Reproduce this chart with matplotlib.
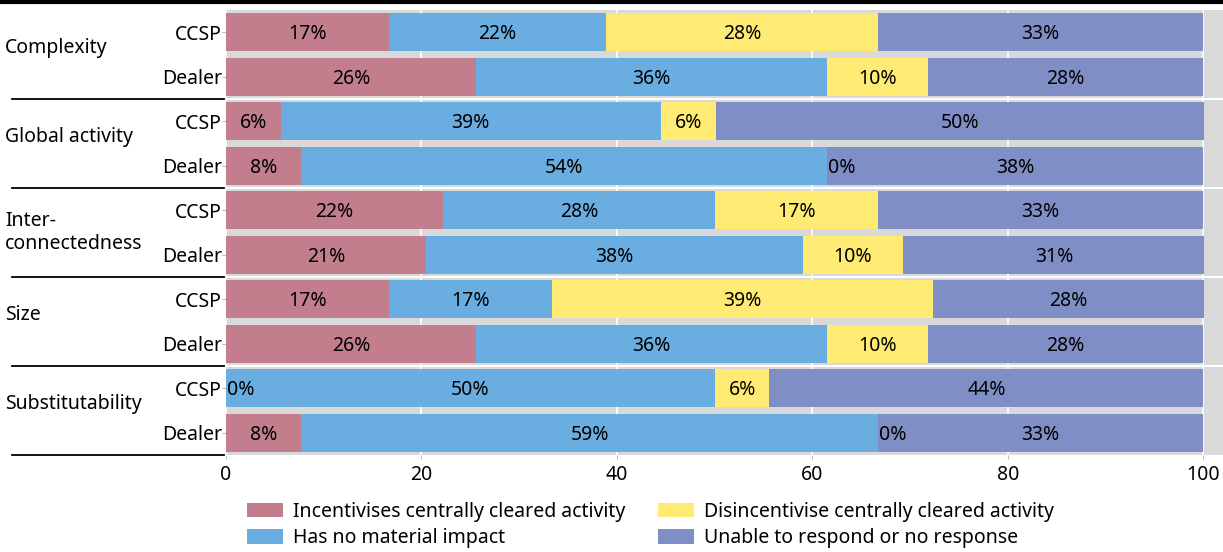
import numpy as np
import matplotlib.pyplot as plt
from matplotlib.transforms import blended_transform_factory
from matplotlib.patches import Patch

plt.rcParams['font.family'] = ['Noto Sans', 'DejaVu Sans']
plt.rcParams['font.size'] = 14

# groups and respondent types (top to bottom)
groups = ['Complexity', 'Global activity', 'Inter-\nconnectedness', 'Size', 'Substitutability']
types = ['CCSP', 'Dealer']

series = ['Incentivises centrally cleared activity', 'Has no material impact',
          'Disincentivise centrally cleared activity', 'Unable to respond or no response']
colors = ['#C27E8C', '#6AADE0', '#FFEA73', '#808EC6']

# share of respondents (%), rows: CCSP/Dealer per group
incentivise = [16.7, 25.6, 5.6, 7.7, 22.2, 20.5, 16.7, 25.6, 0.0, 7.7]
no_impact = [22.2, 35.9, 38.9, 53.8, 27.8, 38.5, 16.7, 35.9, 50.0, 59.0]
disincentivise = [27.8, 10.3, 5.6, 0.0, 16.7, 10.3, 38.9, 10.3, 5.6, 0.0]
no_response = [33.3, 28.2, 50.0, 38.5, 33.3, 30.8, 27.8, 28.2, 44.4, 33.3]
labels = [
    ['17%', '26%', '6%', '8%', '22%', '21%', '17%', '26%', '0%', '8%'],
    ['22%', '36%', '39%', '54%', '28%', '38%', '17%', '36%', '50%', '59%'],
    ['28%', '10%', '6%', '0%', '17%', '10%', '39%', '10%', '6%', '0%'],
    ['33%', '28%', '50%', '38%', '33%', '31%', '28%', '28%', '44%', '33%'],
]

data = np.array([incentivise, no_impact, disincentivise, no_response])
n = data.shape[1]
y = np.arange(n)

fig = plt.figure(figsize=(12.23, 5.52), dpi=100)
ax = fig.add_axes([226/1223, 97/552, 1 - 226/1223, 445/552])
ax.set_facecolor('#D9D9D9')

left = np.zeros(n)
for k in range(4):
    ax.barh(y, data[k], left=left, height=0.86, color=colors[k], zorder=3)
    for i in range(n):
        if data[k, i] == 0:
            ax.text(left[i] + 0.1, y[i] + 0.04, labels[k][i], ha='left', va='center', zorder=4)
        else:
            ax.text(left[i] + data[k, i]/2, y[i] + 0.04, labels[k][i], ha='center', va='center', zorder=4)
    left = left + data[k]

ax.set_xlim(0, 102)
ax.set_ylim(n - 0.5, -0.5)
ax.set_xticks([0, 20, 40, 60, 80, 100])
ax.set_yticks(y)
ax.set_yticklabels(types * len(groups))
ax.tick_params(axis='both', length=3, color='#BBBBBB')
ax.tick_params(axis='y', pad=0)
ax.tick_params(axis='x', pad=4)
for s in ax.spines.values():
    s.set_visible(False)
ax.grid(axis='x', color='white', lw=1.2, zorder=1)
for b in [1.5, 3.5, 5.5, 7.5]:
    ax.axhline(b, color='white', lw=1.5, zorder=2)

# group labels and separators on the left
tr = blended_transform_factory(fig.transFigure, ax.transData)
for g, name in enumerate(groups):
    yc = 2*g + 0.5 if '\n' in name else 2*g + 0.36
    ax.text(5/1223, yc, name, transform=tr, ha='left', va='center', linespacing=1.2)
    yb = 2*g + 1.5
    ax.plot([12/1223, 224/1223], [yb, yb], transform=tr, color='black', lw=1.3, clip_on=False)

# top rule
fig.add_artist(plt.Line2D([0, 1], [0.997, 0.997], transform=fig.transFigure, color='black', lw=3))

handles = [Patch(facecolor=c) for c in colors]
fig.legend(handles, series, loc='center left', bbox_to_anchor=(247/1223, 27/552), ncol=2,
           frameon=False, handlelength=1.85, handleheight=0.77, columnspacing=1.7,
           labelspacing=0.34, handletextpad=0.5, borderpad=0, borderaxespad=0)

fig.savefig('out.png', dpi=100)
